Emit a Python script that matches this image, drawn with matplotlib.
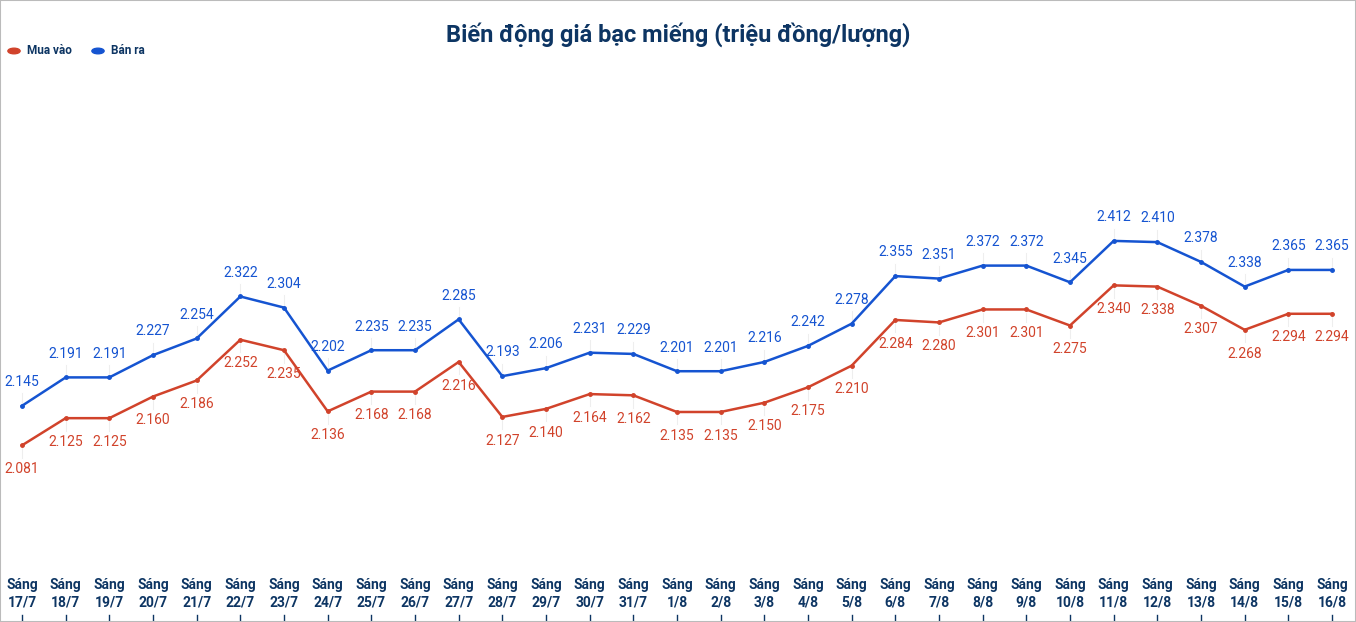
import matplotlib
matplotlib.use("Agg")
import matplotlib.pyplot as plt
import matplotlib.transforms as mt
from matplotlib.patches import Rectangle

plt.rcParams['font.family'] = ['Roboto', 'DejaVu Sans']

dates = ["17/7","18/7","19/7","20/7","21/7","22/7","23/7","24/7","25/7","26/7","27/7","28/7","29/7","30/7","31/7",
         "1/8","2/8","3/8","4/8","5/8","6/8","7/8","8/8","9/8","10/8","11/8","12/8","13/8","14/8","15/8","16/8"]
buy = [2.081,2.125,2.125,2.160,2.186,2.252,2.235,2.136,2.168,2.168,2.216,2.127,2.140,2.164,2.162,2.135,2.135,
       2.150,2.175,2.210,2.284,2.280,2.301,2.301,2.275,2.340,2.338,2.307,2.268,2.294,2.294]
sell = [2.145,2.191,2.191,2.227,2.254,2.322,2.304,2.202,2.235,2.235,2.285,2.193,2.206,2.231,2.229,2.201,2.201,
        2.216,2.242,2.278,2.355,2.351,2.372,2.372,2.345,2.412,2.410,2.378,2.338,2.365,2.365]

RED = "#d1432b"
BLUE = "#1554d1"
NAVY = "#0d3563"

fig = plt.figure(figsize=(13.56, 6.22), dpi=100)
ax = fig.add_axes([0, 0, 1, 1])
ax.set_xlim(-0.504, 30.55)
ax.set_ylim(1.795, 2.802)
ax.axis('off')
fig.patches.append(Rectangle((0, 0), 1, 1, transform=fig.transFigure, fill=False,
                             edgecolor="#bbbbbb", linewidth=1.5))

x = list(range(len(dates)))
ax.plot(x, sell, color=BLUE, lw=1.8, marker='o', ms=2.5)
ax.plot(x, buy, color=RED, lw=1.8, marker='o', ms=2.5)

for i in x:
    ax.annotate(f"{sell[i]:.3f}", (i, sell[i]), xytext=(0, 12), textcoords='offset points',
                ha='center', va='bottom', color=BLUE, fontsize=10)
    ax.annotate(f"{buy[i]:.3f}", (i, buy[i]), xytext=(0, -12), textcoords='offset points',
                ha='center', va='top', color=RED, fontsize=10)
    ax.plot([i, i], [sell[i] + 0.005, sell[i] + 0.02], color="#eeeeee", lw=0.8, zorder=0)
    ax.plot([i, i], [buy[i] - 0.005, buy[i] - 0.02], color="#eeeeee", lw=0.8, zorder=0)

tr = mt.blended_transform_factory(ax.transData, fig.transFigure)
for i, d in enumerate(dates):
    ax.text(i, 1 - 578/622, f"Sáng\n{d}", transform=tr, ha='center', va='top',
            fontsize=10, fontweight='bold', color=NAVY, linespacing=1.3)
    ax.plot([i, i], [1 - 615/622, 1 - 620/622], transform=tr, color=NAVY, lw=1)

fig.text(0.5, 1 - 35/622, "Biến động giá bạc miếng (triệu đồng/lượng)", ha='center', va='center',
         fontsize=17, fontweight='bold', color=NAVY)

fig.patches.append(matplotlib.patches.Circle((14/1356, 1 - 51/622), 0.0045, transform=fig.transFigure,
                                             color=RED))
fig.text(27/1356, 1 - 51/622, "Mua vào", va='center', fontsize=8.5, fontweight='bold', color=NAVY)
fig.patches.append(matplotlib.patches.Circle((98/1356, 1 - 51/622), 0.0045, transform=fig.transFigure,
                                             color=BLUE))
fig.text(111/1356, 1 - 51/622, "Bán ra", va='center', fontsize=8.5, fontweight='bold', color=NAVY)

fig.savefig("out.png", dpi=100)
